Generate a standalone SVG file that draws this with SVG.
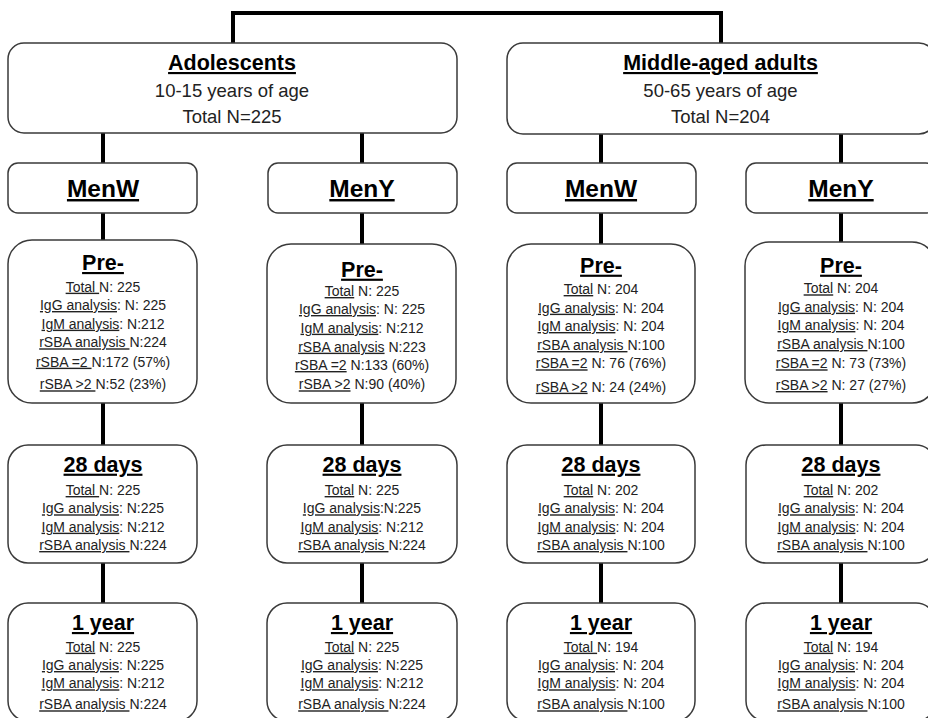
<svg xmlns="http://www.w3.org/2000/svg" width="928" height="718" viewBox="0 0 928 718">
<style>
text{font-family:"Liberation Sans",Arial,sans-serif;text-anchor:middle;fill:#111}
.box{fill:#fff;stroke:#3a3a3a;stroke-width:1.5}
.conn{stroke:#000;stroke-width:4;fill:none}
.h1{font-size:21.5px;font-weight:bold;text-decoration:underline;fill:#000}
.h2{font-size:18.5px;fill:#222}
.men{font-size:24.5px;font-weight:bold;text-decoration:underline;fill:#000}
.st{font-size:21.5px;font-weight:bold;text-decoration:underline;fill:#000}
.s{font-size:14px;fill:#222}
.u{text-decoration:underline}
</style>
<rect width="928" height="718" fill="#fff"/>
<g id="connectors">
<path class="conn" d="M233,43 V13 H721 V43"/>
<path class="conn" d="M103,133 V163 M362,133 V163 M601,134 V163 M841,134 V163"/>
<path class="conn" d="M103,213 V240 M362,213 V244 M601,213 V244 M841,213 V242"/>
<path class="conn" d="M103,403 V445 M362,403 V445 M601,403 V445 M841,403 V445"/>
<path class="conn" d="M103,563 V603 M362,563 V603 M601,563 V603 M841,563 V603"/>
</g>
<g id="adolescents">
<rect class="box" x="8" y="43" width="449" height="90" rx="16"/>
<text class="h1" x="232" y="70">Adolescents</text>
<text class="h2" x="232" y="97">10-15 years of age</text>
<text class="h2" x="232" y="123">Total N=225</text>
</g>
<g id="adults">
<rect class="box" x="507" y="43" width="428" height="91" rx="16"/>
<text class="h1" x="720.5" y="70">Middle-aged adults</text>
<text class="h2" x="720.5" y="97">50-65 years of age</text>
<text class="h2" x="720.5" y="123">Total N=204</text>
</g>
<g id="adol-menw">
<rect class="box" x="8" y="163" width="189" height="50" rx="10"/>
<text class="men" x="103" y="197">MenW</text>
</g>
<g id="adol-meny">
<rect class="box" x="268" y="163" width="189" height="50" rx="10"/>
<text class="men" x="362" y="197">MenY</text>
</g>
<g id="adult-menw">
<rect class="box" x="507" y="163" width="189" height="50" rx="10"/>
<text class="men" x="601" y="197">MenW</text>
</g>
<g id="adult-meny">
<rect class="box" x="746" y="163" width="190" height="50" rx="10"/>
<text class="men" x="841" y="197">MenY</text>
</g>
<g id="adol-menw-pre">
<rect class="box" x="8" y="240" width="189" height="163" rx="24"/>
<text class="st" x="103" y="270">Pre-</text>
<text class="s" x="103" y="291.7"><tspan class="u">Total </tspan>N: 225</text>
<text class="s" x="103" y="310"><tspan class="u">IgG analysis</tspan>: N: 225</text>
<text class="s" x="103" y="328.7"><tspan class="u">IgM analysis</tspan>: N:212</text>
<text class="s" x="103" y="347.3"><tspan class="u">rSBA analysis </tspan>N:224</text>
<text class="s" x="103" y="366.7"><tspan class="u">rSBA =2 </tspan>N:172 (57%)</text>
<text class="s" x="103" y="389.3"><tspan class="u">rSBA &gt;2 </tspan>N:52 (23%)</text>
</g>
<g id="adol-meny-pre">
<rect class="box" x="267" y="244" width="189" height="159" rx="24"/>
<text class="st" x="362" y="276.7">Pre-</text>
<text class="s" x="362" y="296"><tspan class="u">Total</tspan> N: 225</text>
<text class="s" x="362" y="314"><tspan class="u">IgG analysis</tspan>: N: 225</text>
<text class="s" x="362" y="332.7"><tspan class="u">IgM analysis</tspan>: N:212</text>
<text class="s" x="362" y="351.7"><tspan class="u">rSBA analysis</tspan> N:223</text>
<text class="s" x="362" y="370"><tspan class="u">rSBA =2</tspan> N:133 (60%)</text>
<text class="s" x="362" y="389.3"><tspan class="u">rSBA &gt;2</tspan> N:90 (40%)</text>
</g>
<g id="adult-menw-pre">
<rect class="box" x="507" y="244" width="188" height="159" rx="24"/>
<text class="st" x="601" y="272.7">Pre-</text>
<text class="s" x="601" y="294"><tspan class="u">Total</tspan> N: 204</text>
<text class="s" x="601" y="312.7"><tspan class="u">IgG analysis</tspan>: N: 204</text>
<text class="s" x="601" y="331"><tspan class="u">IgM analysis</tspan>: N: 204</text>
<text class="s" x="601" y="350"><tspan class="u">rSBA analysis </tspan>N:100</text>
<text class="s" x="601" y="368.3"><tspan class="u">rSBA =2</tspan> N: 76 (76%)</text>
<text class="s" x="601" y="391.7"><tspan class="u">rSBA &gt;2</tspan> N: 24 (24%)</text>
</g>
<g id="adult-meny-pre">
<rect class="box" x="745" y="242" width="191" height="161" rx="24"/>
<text class="st" x="841" y="272.7">Pre-</text>
<text class="s" x="841" y="293.3"><tspan class="u">Total</tspan> N: 204</text>
<text class="s" x="841" y="311.7"><tspan class="u">IgG analysis</tspan>: N: 204</text>
<text class="s" x="841" y="330"><tspan class="u">IgM analysis</tspan>: N: 204</text>
<text class="s" x="841" y="349"><tspan class="u">rSBA analysis </tspan>N:100</text>
<text class="s" x="841" y="368.3"><tspan class="u">rSBA =2</tspan> N: 73 (73%)</text>
<text class="s" x="841" y="390"><tspan class="u">rSBA &gt;2</tspan> N: 27 (27%)</text>
</g>
<g id="adol-menw-28">
<rect class="box" x="8" y="445" width="189" height="118" rx="20"/>
<text class="st" x="103" y="471.7">28 days</text>
<text class="s" x="103" y="495"><tspan class="u">Total </tspan>N: 225</text>
<text class="s" x="103" y="513.3"><tspan class="u">IgG analysis</tspan>: N:225</text>
<text class="s" x="103" y="531.7"><tspan class="u">IgM analysis</tspan>: N:212</text>
<text class="s" x="103" y="550"><tspan class="u">rSBA analysis </tspan>N:224</text>
</g>
<g id="adol-meny-28">
<rect class="box" x="267" y="445" width="190" height="118" rx="20"/>
<text class="st" x="362" y="471.7">28 days</text>
<text class="s" x="362" y="495"><tspan class="u">Total</tspan> N: 225</text>
<text class="s" x="362" y="513.3"><tspan class="u">IgG analysis</tspan>:N:225</text>
<text class="s" x="362" y="531.7"><tspan class="u">IgM analysis</tspan>: N:212</text>
<text class="s" x="362" y="550"><tspan class="u">rSBA analysis </tspan>N:224</text>
</g>
<g id="adult-menw-28">
<rect class="box" x="507" y="445" width="188" height="118" rx="20"/>
<text class="st" x="601" y="471.7">28 days</text>
<text class="s" x="601" y="495"><tspan class="u">Total</tspan> N: 202</text>
<text class="s" x="601" y="513.3"><tspan class="u">IgG analysis</tspan>: N: 204</text>
<text class="s" x="601" y="531.7"><tspan class="u">IgM analysis</tspan>: N: 204</text>
<text class="s" x="601" y="550"><tspan class="u">rSBA analysis </tspan>N:100</text>
</g>
<g id="adult-meny-28">
<rect class="box" x="746" y="445" width="190" height="118" rx="20"/>
<text class="st" x="841" y="471.7">28 days</text>
<text class="s" x="841" y="495"><tspan class="u">Total</tspan> N: 202</text>
<text class="s" x="841" y="513.3"><tspan class="u">IgG analysis</tspan>: N: 204</text>
<text class="s" x="841" y="531.7"><tspan class="u">IgM analysis</tspan>: N: 204</text>
<text class="s" x="841" y="550"><tspan class="u">rSBA analysis </tspan>N:100</text>
</g>
<g id="adol-menw-1y">
<rect class="box" x="8" y="603" width="189" height="118" rx="20"/>
<text class="st" x="103" y="630">1 year</text>
<text class="s" x="103" y="651.7"><tspan class="u">Total</tspan> N: 225</text>
<text class="s" x="103" y="670"><tspan class="u">IgG analysis</tspan>: N:225</text>
<text class="s" x="103" y="688.3"><tspan class="u">IgM analysis</tspan>: N:212</text>
<text class="s" x="103" y="709.3"><tspan class="u">rSBA analysis </tspan>N:224</text>
</g>
<g id="adol-meny-1y">
<rect class="box" x="267" y="603" width="190" height="118" rx="20"/>
<text class="st" x="362" y="630">1 year</text>
<text class="s" x="362" y="651.7"><tspan class="u">Total</tspan> N: 225</text>
<text class="s" x="362" y="670"><tspan class="u">IgG analysis</tspan>: N:225</text>
<text class="s" x="362" y="688.3"><tspan class="u">IgM analysis</tspan>: N:212</text>
<text class="s" x="362" y="709.3"><tspan class="u">rSBA analysis </tspan>N:224</text>
</g>
<g id="adult-menw-1y">
<rect class="box" x="507" y="603" width="188" height="118" rx="20"/>
<text class="st" x="601" y="630">1 year</text>
<text class="s" x="601" y="651.7"><tspan class="u">Total </tspan>N: 194</text>
<text class="s" x="601" y="670"><tspan class="u">IgG analysis</tspan>: N: 204</text>
<text class="s" x="601" y="688.3"><tspan class="u">IgM analysis</tspan>: N: 204</text>
<text class="s" x="601" y="709.3"><tspan class="u">rSBA analysis </tspan>N:100</text>
</g>
<g id="adult-meny-1y">
<rect class="box" x="746" y="603" width="190" height="118" rx="20"/>
<text class="st" x="841" y="630">1 year</text>
<text class="s" x="841" y="651.7"><tspan class="u">Total</tspan> N: 194</text>
<text class="s" x="841" y="670"><tspan class="u">IgG analysis</tspan>: N: 204</text>
<text class="s" x="841" y="688.3"><tspan class="u">IgM analysis</tspan>: N: 204</text>
<text class="s" x="841" y="709.3"><tspan class="u">rSBA analysis </tspan>N:100</text>
</g>
</svg>
